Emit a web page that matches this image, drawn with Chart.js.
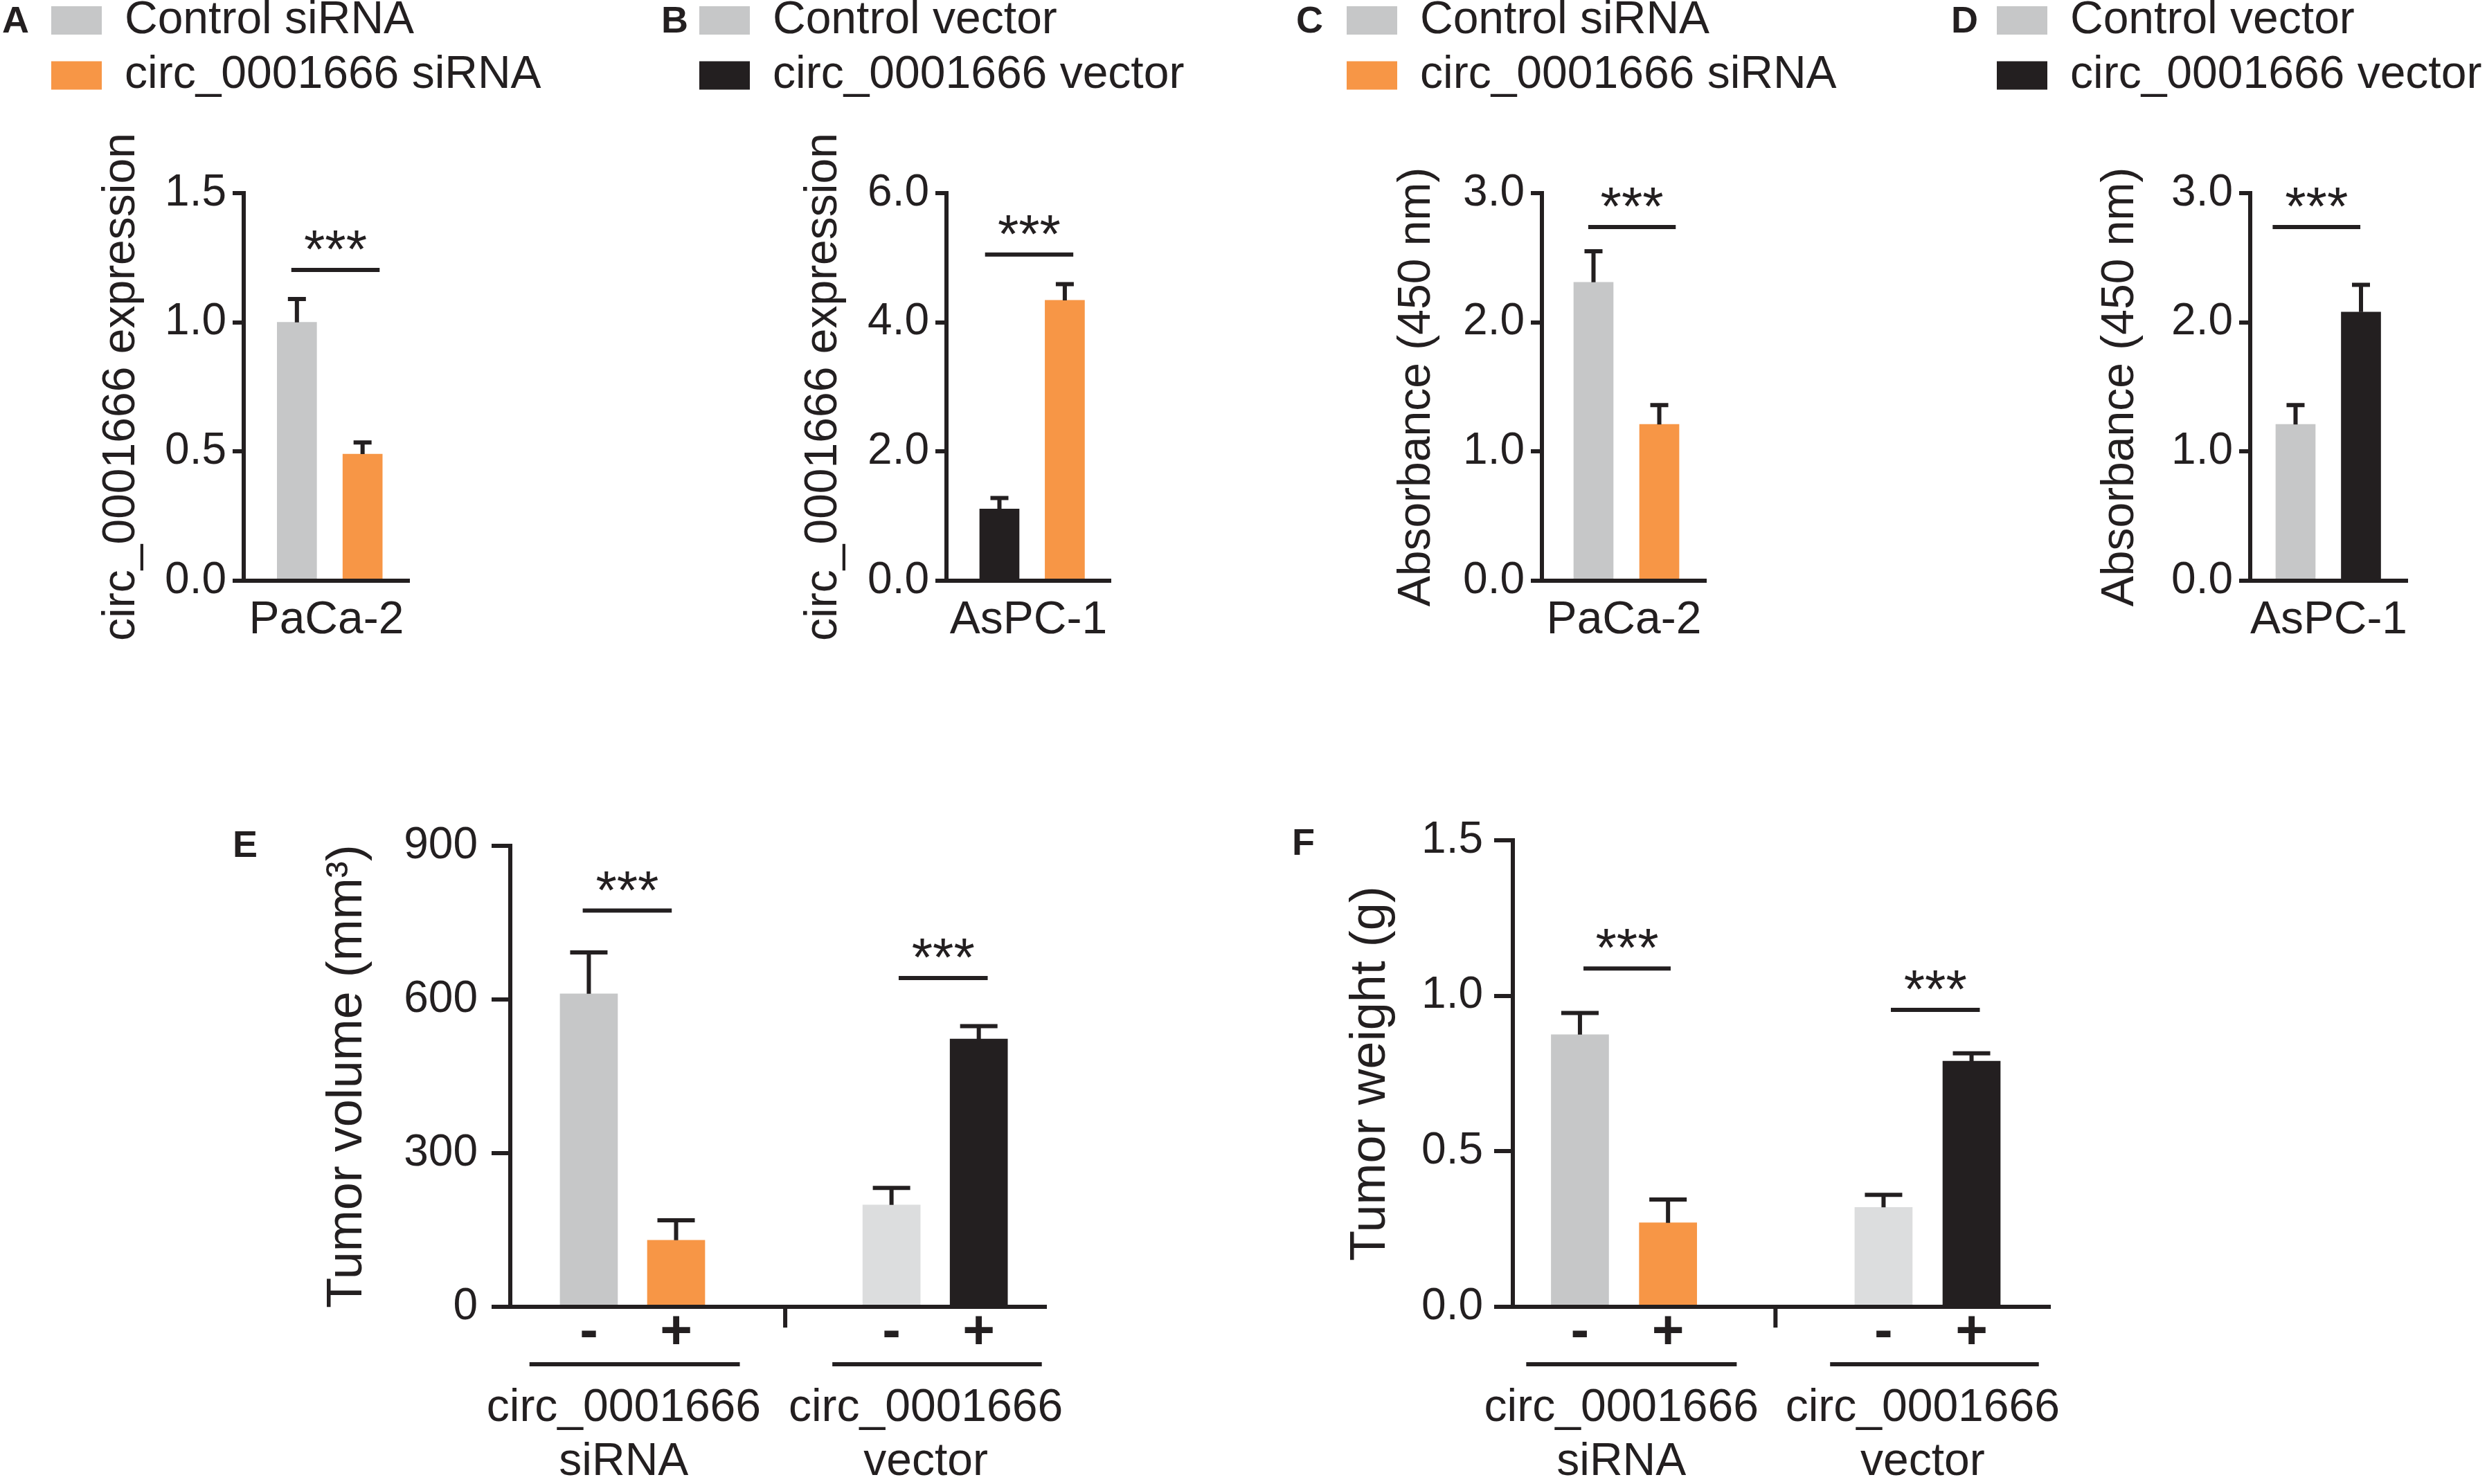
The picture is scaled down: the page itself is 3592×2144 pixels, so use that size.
<!DOCTYPE html>
<html>
<head>
<meta charset="utf-8">
<script src="https://cdn.jsdelivr.net/npm/chart.js@4.4.1/dist/chart.umd.min.js"></script>
<style>
  html, body { margin: 0; padding: 0; background: #fff; overflow: hidden; }
  body { position: relative; width: 3592px; height: 2144px; }
  canvas { position: absolute; }
</style>
</head>
<body>
<script>
// values: bar means and SD (error bar = mean + SD)
const seriesA = ['Control siRNA', 'circ_0001666 siRNA'];
const meanA = [1.00, 0.49];
const sdA = [0.09, 0.045];
const ticksA = [0, 0.5, 1.0, 1.5];

const seriesB = ['Control vector', 'circ_0001666 vector'];
const meanB = [1.11, 4.34];
const sdB = [0.17, 0.25];
const ticksB = [0, 2, 4, 6];

const seriesC = ['Control siRNA', 'circ_0001666 siRNA'];
const meanC = [2.31, 1.21];
const sdC = [0.24, 0.15];
const ticksC = [0, 1, 2, 3];

const seriesD = ['Control vector', 'circ_0001666 vector'];
const meanD = [1.21, 2.08];
const sdD = [0.15, 0.21];
const ticksD = [0, 1, 2, 3];

const cellsTop = ['PaCa-2', 'AsPC-1', 'PaCa-2', 'AsPC-1'];

const signsEF = ['-', '+', '-', '+'];
const groupsEF = [['circ_0001666', 'siRNA'], ['circ_0001666', 'vector']];
const meanE = [611, 130, 199, 523];
const sdE = [81, 39, 33, 25];
const ticksE = [0, 300, 600, 900];
const meanF = [0.875, 0.27, 0.32, 0.79];
const sdF = [0.07, 0.075, 0.04, 0.025];
const ticksF = [0, 0.5, 1.0, 1.5];

const ink = '#231f20';
const grey = '#c6c7c8';
const orange = '#f79646';
const black = '#231f20';
const pale = '#dcddde';
const family = '"Liberation Sans", Arial, sans-serif';

Chart.defaults.font.family = family;
Chart.defaults.color = ink;

// error bars, significance bars, group lines and panel letter
function marks(cfg) {
  return {
    id: 'marks',
    afterDatasetsDraw(chart) {
      const {ctx, scales: {y}} = chart;
      ctx.save();
      ctx.strokeStyle = ink;
      ctx.lineWidth = 6;
      chart.data.datasets.forEach((ds, di) => {
        chart.getDatasetMeta(di).data.forEach((bar, i) => {
          const top = y.getPixelForValue(ds.data[i].y + ds.sd[i]);
          ctx.beginPath();
          ctx.moveTo(bar.x, bar.y);
          ctx.lineTo(bar.x, top);
          ctx.moveTo(bar.x - cfg.cap / 2, top);
          ctx.lineTo(bar.x + cfg.cap / 2, top);
          ctx.stroke();
        });
      });
      ctx.restore();
    },
    afterDraw(chart) {
      const {ctx, scales: {x, y}} = chart;
      ctx.save();
      ctx.strokeStyle = ink;
      ctx.fillStyle = ink;
      ctx.lineWidth = 6;
      cfg.sig.forEach(([x1, x2, v]) => {
        const py = y.getPixelForValue(v);
        ctx.beginPath();
        ctx.moveTo(x.getPixelForValue(x1), py);
        ctx.lineTo(x.getPixelForValue(x2), py);
        ctx.stroke();
        ctx.font = '78px ' + family;
        ctx.textAlign = 'center';
        ctx.textBaseline = 'alphabetic';
        ctx.fillText('***', x.getPixelForValue((x1 + x2) / 2), py - 3);
      });
      if (cfg.divider) {
        const px = x.getPixelForValue(cfg.divider);
        ctx.beginPath();
        ctx.moveTo(px, x.top);
        ctx.lineTo(px, x.top + 30);
        ctx.stroke();
      }
      (cfg.underlines || []).forEach(([a, b]) => {
        ctx.beginPath();
        ctx.moveTo(x.getPixelForValue(a), x.top + 83);
        ctx.lineTo(x.getPixelForValue(b), x.top + 83);
        ctx.stroke();
      });
      ctx.font = 'bold 54px ' + family;
      ctx.textAlign = 'left';
      ctx.textBaseline = 'middle';
      ctx.fillText(cfg.letter, cfg.letterX, cfg.letterY);
      ctx.restore();
    }
  };
}

// legend: fixed height so the plot starts where it should, and
// let it run to the canvas edge so the long labels are not clipped
function legendBox(h) {
  return {
    id: 'legendBox',
    beforeLayout(chart) {
      const lg = chart.legend;
      if (!lg || lg._fixed) return;
      const fit = lg.fit;
      lg.fit = function () { fit.call(this); this.height = h; };
      lg._fixed = true;
    },
    afterLayout(chart) {
      const lg = chart.legend;
      lg.right = chart.width;
      lg.width = lg.right - lg.left;
    }
  };
}

function makeCanvas(left, top, w, h) {
  const cv = document.createElement('canvas');
  cv.width = w;
  cv.height = h;
  cv.style.left = left + 'px';
  cv.style.top = top + 'px';
  cv.style.width = w + 'px';
  cv.style.height = h + 'px';
  document.body.appendChild(cv);
  return cv;
}

function yScale(cfg) {
  return {
    type: 'linear',
    min: 0,
    max: cfg.ticks[cfg.ticks.length - 1],
    afterBuildTicks: s => { s.ticks = cfg.ticks.map(v => ({value: v})); },
    afterFit: s => { s.width = cfg.yW; },
    ticks: {
      font: {size: 64},
      color: ink,
      padding: cfg.tickPad,
      callback: v => v.toFixed(cfg.dec)
    },
    grid: {
      display: true, drawOnChartArea: false, drawTicks: true,
      tickLength: cfg.tickLen, tickWidth: 6, lineWidth: 6, color: ink
    },
    border: {display: true, width: 6, color: ink, z: 1},
    title: {
      display: true, text: cfg.yTitle, color: ink,
      font: {size: cfg.yTitleSize}, padding: {top: cfg.yTitlePad, bottom: 0}
    }
  };
}

// ---- top row: one cell line, two bars, legend above
function topPanel(cfg) {
  const cv = makeCanvas(cfg.left, -17, cfg.w, 966);
  const datasets = cfg.series.map((s, i) => ({
    label: s,
    data: [{x: cfg.pos[i], y: cfg.mean[i]}],
    sd: [cfg.sd[i]],
    backgroundColor: cfg.barColors[i],
    borderWidth: 0,
    grouped: false,
    barThickness: 57
  }));
  new Chart(cv, {
    type: 'bar',
    data: {datasets},
    plugins: [legendBox(296), marks(cfg)],
    options: {
      responsive: false,
      animation: false,
      events: [],
      layout: {padding: {left: cfg.padL, right: cfg.padR, top: 0, bottom: 0}},
      plugins: {
        tooltip: {enabled: false},
        legend: {
          display: true,
          position: 'top',
          align: 'start',
          labels: {
            font: {size: 66},
            color: ink,
            boxWidth: 73,
            boxHeight: 41,
            padding: 13.5,
            generateLabels: chart => chart.data.datasets.map((ds, i) => ({
              text: ds.label,
              fillStyle: cfg.legendColors[i],
              strokeStyle: cfg.legendColors[i],
              lineWidth: 0,
              hidden: false,
              fontColor: ink,
              datasetIndex: i
            }))
          }
        }
      },
      scales: {
        x: {
          type: 'linear',
          min: cfg.xMin,
          max: cfg.xMax,
          offset: false,
          afterBuildTicks: s => { s.ticks = cfg.pos.map(v => ({value: v})); },
          afterFit: s => { s.height = 110; },
          ticks: {display: false},
          grid: {display: false, drawTicks: false, offset: false},
          border: {display: true, width: 6, color: ink, z: 1},
          title: {
            display: true, text: cfg.cell, color: ink,
            font: {size: 66}, padding: {top: 0, bottom: 12.4}
          }
        },
        y: yScale(Object.assign({tickLen: 16, tickPad: 9, dec: 1, yTitleSize: 66}, cfg))
      }
    }
  });
}

// ---- bottom row: four bars in two groups
function groupPanel(cfg) {
  const cv = makeCanvas(cfg.left, 1150, cfg.w, 988);
  new Chart(cv, {
    type: 'bar',
    data: {
      datasets: [{
        label: cfg.yTitle,
        data: cfg.mean.map((v, i) => ({x: cfg.pos[i], y: v})),
        sd: cfg.sd,
        backgroundColor: cfg.barColors,
        borderWidth: 0,
        grouped: false,
        barThickness: 83
      }]
    },
    plugins: [marks(cfg)],
    options: {
      responsive: false,
      animation: false,
      events: [],
      layout: {padding: {left: 0, right: 60, top: cfg.padTop, bottom: 0}},
      plugins: {tooltip: {enabled: false}, legend: {display: false}},
      scales: {
        x: {
          type: 'linear',
          min: cfg.xMin,
          max: cfg.xMax,
          offset: false,
          afterBuildTicks: s => { s.ticks = cfg.pos.map(v => ({value: v})); },
          afterFit: s => { s.height = 100; },
          ticks: {
            autoSkip: false, maxRotation: 0, minRotation: 0,
            font: {size: 80, weight: 'bold', lineHeight: 1},
            color: ink, padding: -2,
            callback: (v, i) => signsEF[i]
          },
          grid: {display: false, drawTicks: false, offset: false},
          border: {display: true, width: 6, color: ink, z: 1}
        },
        x2: {
          type: 'linear',
          position: 'bottom',
          weight: 1,
          min: cfg.xMin,
          max: cfg.xMax,
          offset: false,
          afterBuildTicks: s => { s.ticks = cfg.groupAt.map(v => ({value: v})); },
          afterFit: s => { s.height = 150; },
          ticks: {
            autoSkip: false, maxRotation: 0, minRotation: 0,
            font: {size: 66, lineHeight: 1.18},
            color: ink, padding: 8,
            callback: (v, i) => groupsEF[i]
          },
          grid: {display: false, drawTicks: false},
          border: {display: false}
        },
        y: yScale(Object.assign({tickLen: 27, yTitleSize: 72}, cfg))
      }
    }
  });
}

topPanel({
  left: 0, w: 800, padL: 60.5, padR: 209, yW: 291.5, yTitlePad: 75.9,
  series: seriesA, mean: meanA, sd: sdA, ticks: ticksA, cell: cellsTop[0],
  yTitle: 'circ_0001666 expression',
  barColors: [grey, orange], legendColors: [grey, orange],
  xMin: 0.19, xMax: 2.71, pos: [1, 2], cap: 26,
  sig: [[0.915, 2.26, 1.203]], letter: 'A', letterX: 3, letterY: 49
});

topPanel({
  left: 950, w: 780, padL: 46.5, padR: 126, yW: 370.5, yTitlePad: 153.9,
  series: seriesB, mean: meanB, sd: sdB, ticks: ticksB, cell: cellsTop[1],
  yTitle: 'circ_0001666 expression',
  barColors: [black, orange], legendColors: [grey, black],
  xMin: 0.19, xMax: 2.70, pos: [1, 2], cap: 26,
  sig: [[0.78, 2.13, 5.05]], letter: 'B', letterX: 5, letterY: 49
});

topPanel({
  left: 1865, w: 835, padL: 66.5, padR: 236, yW: 295.5, yTitlePad: 75.9,
  series: seriesC, mean: meanC, sd: sdC, ticks: ticksC, cell: cellsTop[2],
  yTitle: 'Absorbance (450 nm)',
  barColors: [grey, orange], legendColors: [grey, orange],
  xMin: 0.216, xMax: 2.71, pos: [1, 2], cap: 26,
  sig: [[0.92, 2.25, 2.737]], letter: 'C', letterX: 7, letterY: 49
});

topPanel({
  left: 2810, w: 782, padL: 60.5, padR: 115, yW: 379.5, yTitlePad: 152.9,
  series: seriesD, mean: meanD, sd: sdD, ticks: ticksD, cell: cellsTop[3],
  yTitle: 'Absorbance (450 nm)',
  barColors: [grey, black], legendColors: [grey, black],
  xMin: 0.307, xMax: 2.709, pos: [1, 2], cap: 26,
  sig: [[0.65, 1.99, 2.737]], letter: 'D', letterX: 8, letterY: 49
});

groupPanel({
  left: 320, w: 1251, padTop: 72, yW: 417, yTitlePad: 138.8, tickPad: 20, dec: 0,
  mean: meanE, sd: sdE, ticks: ticksE, yTitle: 'Tumor volume (mm\u00b3)',
  barColors: [grey, orange, pale, black],
  xMin: 0.1, xMax: 6.24, pos: [1, 2, 4.468, 5.468], groupAt: [1.4, 4.86],
  divider: 3.25, underlines: [[0.32, 2.73], [3.79, 6.19]], cap: 54,
  sig: [[0.93, 1.95, 773.6], [4.55, 5.57, 641.9]], letter: 'E', letterX: 16, letterY: 73
});

groupPanel({
  left: 1850, w: 1171, padTop: 64, yW: 335, yTitlePad: 86.8, tickPad: 16, dec: 1,
  mean: meanF, sd: sdF, ticks: ticksF, yTitle: 'Tumor weight (g)',
  barColors: [grey, orange, pale, black],
  xMin: 0.238, xMax: 6.338, pos: [1, 2, 4.447, 5.446], groupAt: [1.47, 4.89],
  divider: 3.22, underlines: [[0.39, 2.78], [3.84, 6.21]], cap: 54,
  sig: [[1.04, 2.03, 1.088], [4.53, 5.54, 0.955]], letter: 'F', letterX: 16, letterY: 70
});
</script>
</body>
</html>
